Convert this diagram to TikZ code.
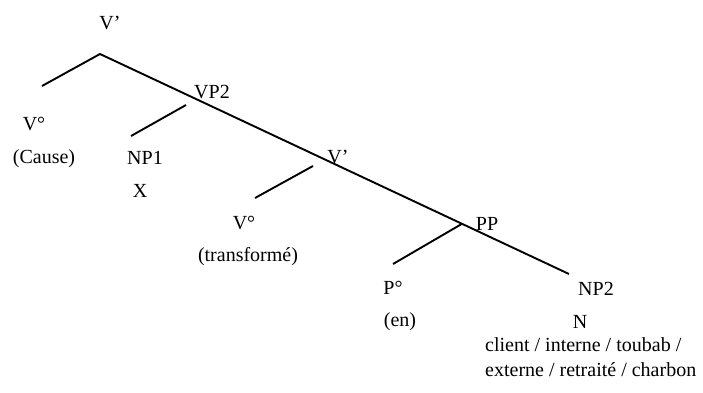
\documentclass[tikz,border=0pt]{standalone}
\usepackage{fontspec}
\setmainfont{Liberation Serif}
\begin{document}
\begin{tikzpicture}[x=1pt,y=-1pt,
  branch/.style={line width=1.9pt, line cap=butt},
  lbl/.style={inner sep=0pt, anchor=base, font=\fontsize{20}{24}\selectfont},
  lbll/.style={lbl, anchor=base west}]
\useasboundingbox (0,0) rectangle (703,392);

% tree skeleton
\coordinate (top) at (100,54);
\coordinate (vpb) at (186,94.3);
\coordinate (vmb) at (313,153.9);
\coordinate (ppb) at (462,223.8);
\coordinate (np2) at (569,274);
\coordinate (vzero) at (42,86);
\coordinate (np1a) at (186,105);
\coordinate (np1b) at (131,136);
\coordinate (vza) at (313,166);
\coordinate (vzb) at (255,198);
\coordinate (pzb) at (393,264);

\draw[branch] (vzero) -- (top) -- (vpb) -- (vmb) -- (ppb) -- (np2);
\draw[branch] (np1a) -- (np1b);
\draw[branch] (vza) -- (vzb);
\draw[branch] (ppb) -- (pzb);

% labels
\node[lbl] (vbar1) at (110,29) {V’};
\node[lbl] (vp2) at (212,98) {VP2};
\node[lbl] (v0a) at (34,130) {V°};
\node[lbl] (cause) at (44,163) {(Cause)};
\node[lbl] (np1) at (145,164) {NP1};
\node[lbl] (x) at (140,197) {X};
\node[lbl] (vbar2) at (338,163) {V’};
\node[lbl] (v0b) at (244,229) {V°};
\node[lbl] (transf) at (248,261) {(transformé)};
\node[lbl] (pp) at (487,230) {PP};
\node[lbl] (p0) at (393,294) {P°};
\node[lbl] (en) at (400,326) {(en)};
\node[lbl] (np2l) at (596,295) {NP2};
\node[lbl] (n) at (580,328) {N};
\node[lbll] (list1) at (485,351) {client / interne / toubab /};
\node[lbll] (list2) at (485,376) {externe / retraité / charbon};
\end{tikzpicture}
\end{document}
